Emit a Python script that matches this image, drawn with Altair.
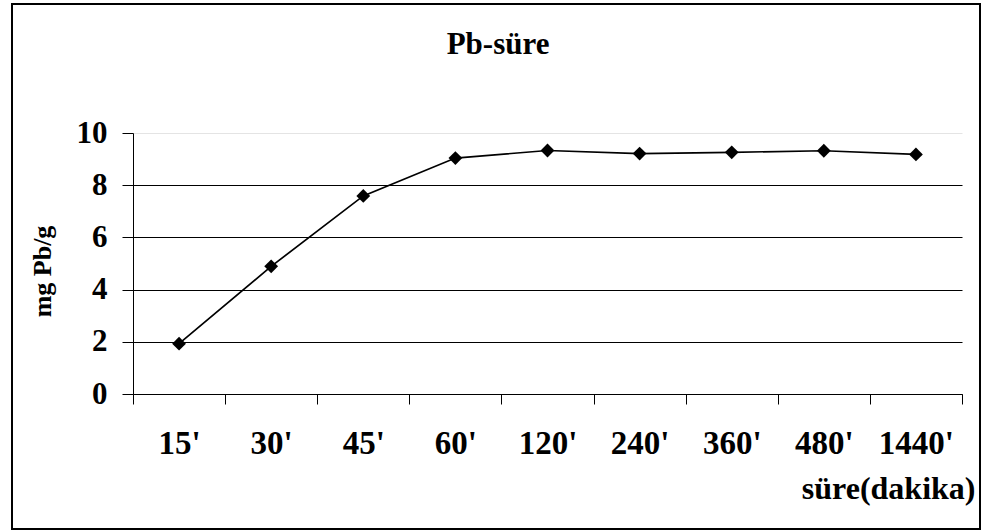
import json
import altair as alt
import pandas as pd

# ---- data ----
categories = ["15'", "30'", "45'", "60'", "120'", "240'", "360'", "480'", "1440'"]
values = [1.93, 4.89, 7.59, 9.04, 9.33, 9.21, 9.26, 9.32, 9.18]
y_ticks = [0, 2, 4, 6, 8, 10]

TITLE = "Pb-süre"
Y_TITLE = "mg Pb/g"
X_TITLE = "süre(dakika)"

FONT = "Liberation Serif"

df = pd.DataFrame({
    "cat": categories,
    "pos": [i + 0.5 for i in range(len(categories))],
    "val": values,
})

n = len(categories)
x_values = [i / 2 for i in range(2 * n + 1)]
label_expr = (
    "datum.value % 1 == 0 ? '' : " + json.dumps(categories) + "[floor(datum.value)]"
)

W, H = 829, 261
PAD_L, PAD_T = 133, 133

x_enc = alt.X(
    "pos:Q",
    scale=alt.Scale(domain=[0, n], nice=False, zero=False),
    axis=alt.Axis(
        values=x_values,
        labelExpr=label_expr,
        labelOverlap=False,
        labelFlush=False,
        grid=False,
        domainColor="black",
        domainWidth=1,
        tickColor={"condition": {"test": "datum.value % 1 != 0", "value": "transparent"},
                   "value": "black"},
        tickSize=10,
        tickWidth=1,
        labelFont=FONT,
        labelFontWeight="bold",
        labelFontSize=33,
        labelColor="black",
        labelBaseline="alphabetic",
        labelPadding=49,
        title=X_TITLE,
        titleFont=FONT,
        titleFontWeight="bold",
        titleFontSize=32,
        titleColor="black",
        titleAnchor="end",
        titleAlign="right",
        titleBaseline="alphabetic",
        titleX=842,
        titleY=104,
    ),
)

y_enc = alt.Y(
    "val:Q",
    scale=alt.Scale(domain=[0, 10], nice=False),
    axis=alt.Axis(
        values=y_ticks,
        grid=True,
        gridColor={"condition": {"test": "datum.value == 10", "value": "#e4e4e4"},
                   "value": "black"},
        gridWidth=1,
        domainColor="black",
        domainWidth=1,
        tickColor="black",
        tickSize=11,
        tickWidth=1,
        labelFont=FONT,
        labelFontWeight="bold",
        labelFontSize=31,
        labelColor="black",
        labelPadding=15,
        title=Y_TITLE,
        titleFont=FONT,
        titleFontWeight="bold",
        titleFontSize=26,
        titleColor="black",
        titleAngle=-90,
        titleAlign="center",
        titleBaseline="middle",
        titleX=-91,
        titleY=138,
    ),
)

base = alt.Chart(df)
line = base.mark_line(color="black", strokeWidth=1.7).encode(x=x_enc, y=y_enc)
points = base.mark_point(shape="diamond", filled=True, color="black", size=190, opacity=1).encode(
    x="pos:Q", y="val:Q"
)

frame = alt.Chart(pd.DataFrame({"a": [0]})).mark_rect(
    fill="transparent", stroke="black", strokeWidth=2
).encode(
    x=alt.value(12 - PAD_L), x2=alt.value(980 - PAD_L),
    y=alt.value(4 - PAD_T), y2=alt.value(529 - PAD_T),
)

title = alt.Chart(pd.DataFrame({"t": [TITLE]})).mark_text(
    font=FONT, fontWeight="bold", fontSize=31, color="black",
    align="center", baseline="alphabetic",
).encode(
    text="t:N",
    x=alt.value(498 - PAD_L),
    y=alt.value(54 - PAD_T),
)

chart = alt.layer(frame, line, points, title).properties(
    width=W,
    height=H,
    autosize=alt.AutoSizeParams(type="none"),
    padding={"left": PAD_L, "top": PAD_T, "right": 984 - PAD_L - W, "bottom": 532 - PAD_T - H},
    background="white",
).configure_view(stroke=None)

chart.save("out.html", embed_options={"renderer": "svg", "actions": False})
